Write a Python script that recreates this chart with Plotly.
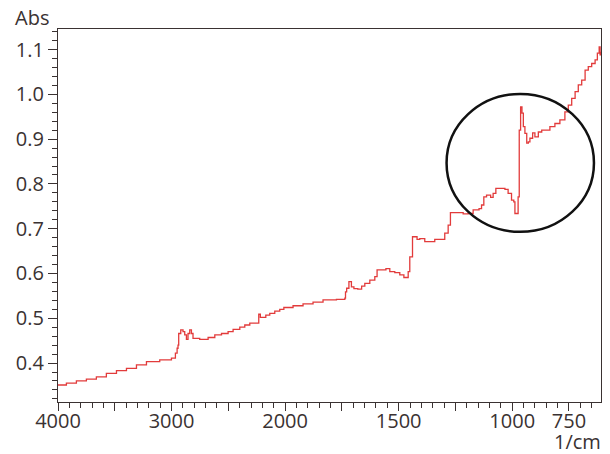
import plotly.graph_objects as go

# IR absorbance spectrum (wavenumber in 1/cm, absorbance)
wavenumber = [
    4000, 3926, 3838, 3750, 3662, 3574, 3485, 3397, 3309, 3221, 3104, 3001,
    2966, 2951, 2943, 2937, 2919, 2899, 2884, 2869, 2855, 2840, 2825, 2811,
    2752, 2692, 2678, 2619, 2560, 2502, 2458, 2399, 2355, 2311, 2241, 2232,
    2218, 2179, 2170, 2135, 2091, 2047, 2011, 1965, 1921, 1877, 1833, 1774,
    1741, 1737, 1734, 1729, 1719, 1708, 1697, 1680, 1663, 1649, 1627, 1605,
    1595, 1568, 1556, 1539, 1517, 1495, 1477, 1458, 1451, 1439, 1429, 1419,
    1407, 1385, 1363, 1341, 1319, 1297, 1282, 1272, 1238, 1216, 1194, 1172,
    1146, 1135, 1125, 1113, 1095, 1084, 1072, 1054, 1032, 1018, 1003, 993,
    988, 981, 974, 969, 963, 957, 951, 944, 936, 929, 922, 910, 900, 885,
    870, 856, 834, 812, 790, 768, 753, 738, 723, 709, 694, 679, 665, 650,
    635, 625, 617, 613, 610,
]
absorbance = [
    0.351, 0.355, 0.360, 0.364, 0.369, 0.377, 0.383, 0.388, 0.396, 0.403, 0.407, 0.411,
    0.422, 0.433, 0.440, 0.466, 0.474, 0.470, 0.463, 0.453, 0.466, 0.474, 0.466, 0.455,
    0.453, 0.453, 0.457, 0.463, 0.466, 0.470, 0.475, 0.480, 0.485, 0.489, 0.489, 0.509,
    0.502, 0.502, 0.507, 0.511, 0.516, 0.520, 0.524, 0.528, 0.532, 0.536, 0.541, 0.542,
    0.542, 0.545, 0.559, 0.567, 0.582, 0.570, 0.566, 0.565, 0.572, 0.578, 0.585, 0.593,
    0.608, 0.608, 0.611, 0.604, 0.602, 0.597, 0.591, 0.604, 0.637, 0.682, 0.682, 0.676,
    0.678, 0.671, 0.671, 0.676, 0.676, 0.690, 0.708, 0.736, 0.736, 0.733, 0.734, 0.742,
    0.745, 0.753, 0.771, 0.775, 0.770, 0.779, 0.790, 0.790, 0.788, 0.779, 0.764, 0.760,
    0.734, 0.734, 0.771, 0.920, 0.972, 0.958, 0.928, 0.913, 0.891, 0.894, 0.902, 0.914, 0.905, 0.916,
    0.920, 0.920, 0.928, 0.935, 0.943, 0.961, 0.976, 0.991, 1.006, 1.021, 1.032, 1.054, 1.062, 1.069,
    1.077, 1.092, 1.106, 1.088, 1.095,
]

x_tick_values = [4000, 3500, 3000, 2500, 2000, 1750, 1500, 1250, 1000, 750]
x_tick_labels = ["4000", "", "3000", "", "2000", "", "1500", "", "1000", "750"]
y_tick_values = [0.4, 0.5, 0.6, 0.7, 0.8, 0.9, 1.0, 1.1]
y_tick_labels = ["0.4", "0.5", "0.6", "0.7", "0.8", "0.9", "1.0", "1.1"]


def to_axis(wn):
    """Map a wavenumber onto the split scale: 1000 1/cm per unit above 2000,
    500 1/cm per unit below it."""
    if wn >= 2000:
        return (4000 - wn) / 1000.0
    return 2.0 + (2000 - wn) / 500.0


ink = "#3a3232"
font = dict(family="Open Sans", size=20, color=ink)

fig = go.Figure()
fig.add_trace(go.Scatter(
    x=[to_axis(w) for w in wavenumber],
    y=absorbance,
    mode="lines",
    line=dict(color="#e23b3b", width=1.3, shape="hv"),
    hoverinfo="skip",
    showlegend=False,
))

# highlight ring around the band near 1000 1/cm
fig.add_shape(
    type="circle", xref="x", yref="y",
    x0=to_axis(1289), x1=to_axis(640), y0=0.693, y1=1.001,
    line=dict(color="#111111", width=2.5),
)

fig.update_xaxes(
    range=[0, to_axis(609)],
    tickmode="array",
    tickvals=[to_axis(v) for v in x_tick_values],
    ticktext=x_tick_labels,
    ticks="outside", ticklen=8, tickwidth=1.2, tickcolor=ink,
    ticklabelstandoff=-7,
    minor=dict(tickmode="linear", tick0=0, dtick=0.1, ticks="outside",
               ticklen=5, tickwidth=1.2, tickcolor=ink, showgrid=False),
    showline=True, linecolor=ink, linewidth=1.3, mirror=True,
    showgrid=False, zeroline=False,
    tickfont=font,
)
fig.update_yaxes(
    range=[0.313, 1.146],
    tickmode="array",
    tickvals=y_tick_values,
    ticktext=y_tick_labels,
    ticks="outside", ticklen=9, tickwidth=1.2, tickcolor=ink,
    minor=dict(tickmode="linear", tick0=0, dtick=0.02, ticks="outside",
               ticklen=5, tickwidth=1.2, tickcolor=ink, showgrid=False),
    showline=True, linecolor=ink, linewidth=1.3, mirror=True,
    showgrid=False, zeroline=False,
    tickfont=font,
)

fig.add_annotation(text="Abs", xref="paper", yref="paper", x=-0.083, y=1.0295,
                   xanchor="left", yanchor="middle", showarrow=False, font=font)
fig.add_annotation(text="1/cm", xref="paper", yref="paper", x=1.004, y=-0.1046,
                   xanchor="right", yanchor="middle", showarrow=False, font=font)

fig.update_layout(
    width=610, height=454,
    margin=dict(l=58, r=9, t=29, b=52),
    paper_bgcolor="white", plot_bgcolor="white",
)

fig.write_html("out.html")
